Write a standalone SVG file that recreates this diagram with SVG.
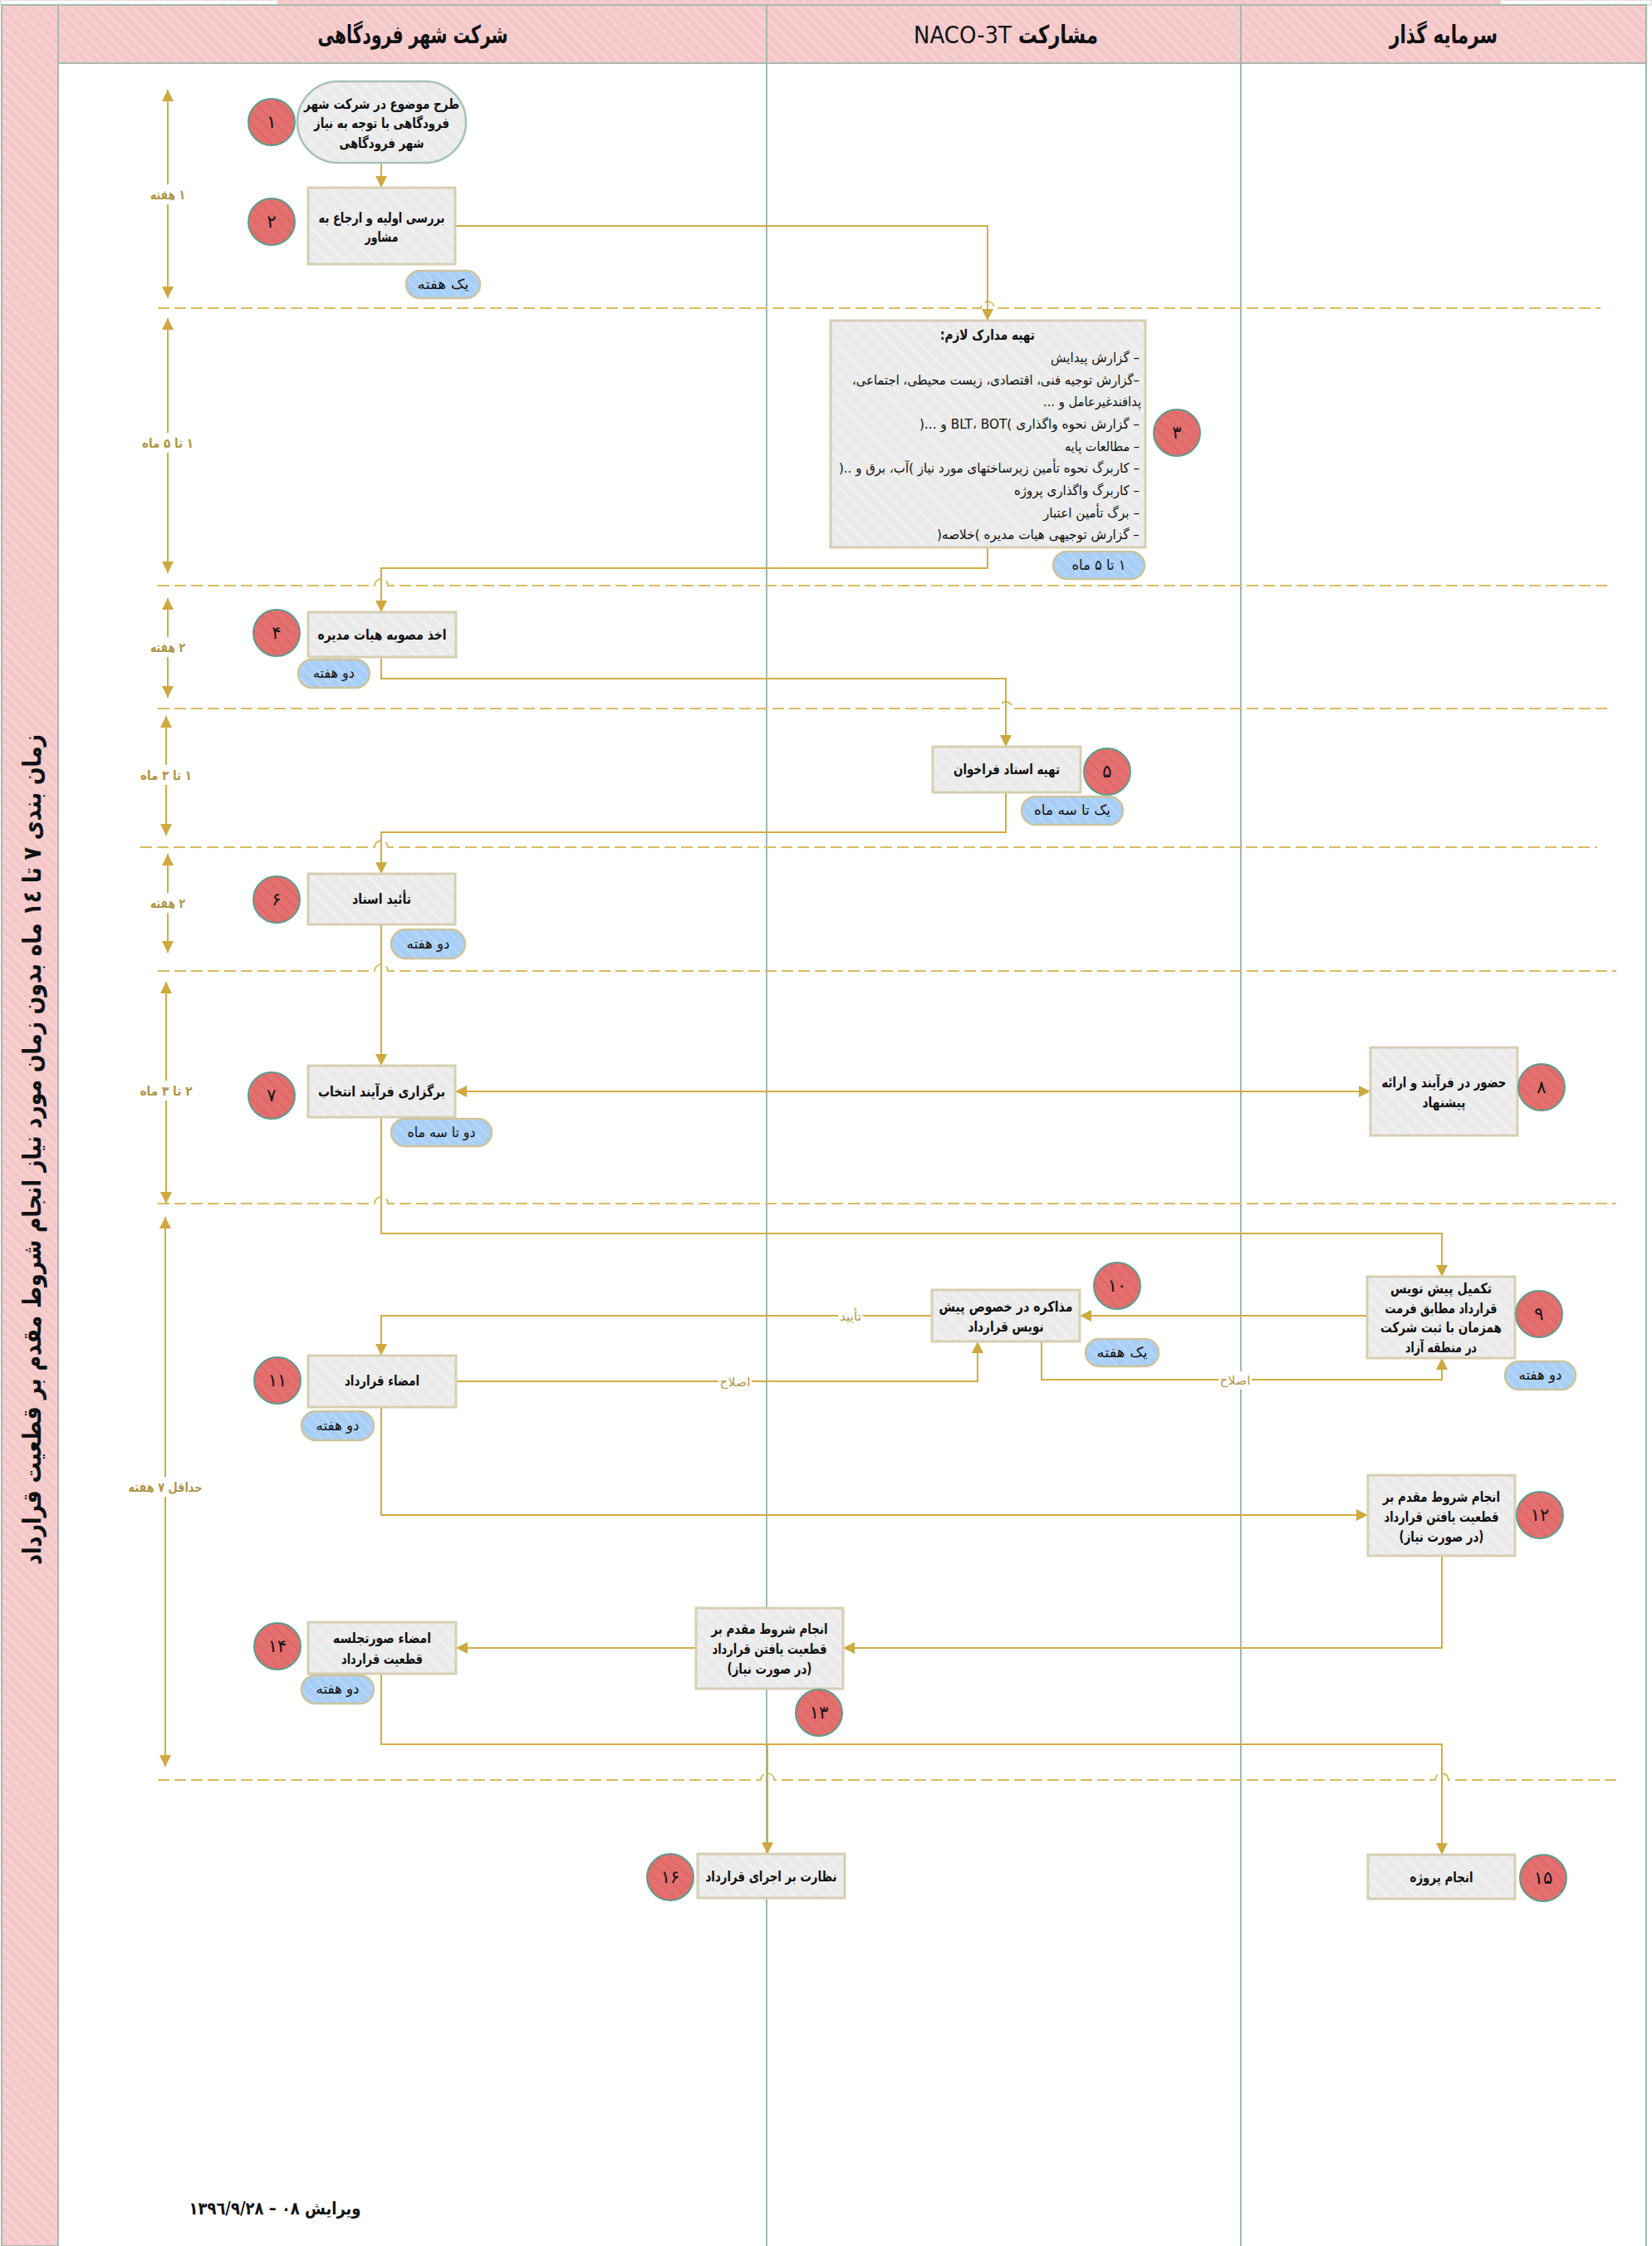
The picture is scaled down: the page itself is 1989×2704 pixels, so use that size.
<svg xmlns="http://www.w3.org/2000/svg" width="1989" height="2704" viewBox="0 0 1989 2704">
<defs>
<pattern id="pPink" width="9" height="9" patternUnits="userSpaceOnUse" patternTransform="rotate(45)"><rect width="9" height="9" fill="#f4c8c8"/><rect width="9" height="2" fill="#f7d4d4"/></pattern>
<pattern id="pGrey" width="12" height="12" patternUnits="userSpaceOnUse" patternTransform="rotate(45)"><rect width="12" height="12" fill="#ebebeb"/><rect width="12" height="2" fill="#f2f2f2"/></pattern>
<pattern id="pRed" width="10" height="10" patternUnits="userSpaceOnUse" patternTransform="rotate(45)"><rect width="10" height="10" fill="#e46f6f"/><rect width="10" height="2" fill="#de6666"/></pattern>
<pattern id="pBlue" width="10" height="10" patternUnits="userSpaceOnUse" patternTransform="rotate(45)"><rect width="10" height="10" fill="#a9cff6"/><rect width="10" height="2" fill="#b7d8f8"/></pattern>
<marker id="ah" viewBox="0 0 10 10" refX="10" refY="5" markerWidth="14" markerHeight="14" markerUnits="userSpaceOnUse" orient="auto-start-reverse"><path d="M0,0 L10,5 L0,10 z" fill="#cda93f"/></marker>
<style>
.box{fill:url(#pGrey);stroke:#d6cfb3;stroke-width:3}
.term{fill:url(#pGrey);stroke:#a7c1b7;stroke-width:2.5}
.cir{fill:url(#pRed);stroke:#5e9c8a;stroke-width:2}
.bad{fill:url(#pBlue);stroke:#cdc39e;stroke-width:2.5}
.t{font-family:'DejaVu Sans',sans-serif;font-size:17px;font-weight:bold;fill:#111;text-anchor:middle;direction:rtl}
.tl{font-family:'DejaVu Sans',sans-serif;font-size:16px;fill:#111;text-anchor:start;direction:rtl}
.bt{font-family:'DejaVu Sans',sans-serif;font-size:17px;fill:#111;text-anchor:middle;direction:rtl}
.num{font-family:'DejaVu Sans',sans-serif;font-size:21px;fill:#111;text-anchor:middle}
.hd{font-family:'DejaVu Sans',sans-serif;font-size:30px;font-weight:bold;fill:#111;text-anchor:middle;direction:rtl}
.du{font-family:'DejaVu Sans',sans-serif;font-size:16px;font-weight:bold;fill:#b09646;text-anchor:middle;direction:rtl}
.lb{font-family:'DejaVu Sans',sans-serif;font-size:15px;fill:#b09646;text-anchor:middle;direction:rtl}
.cn{fill:none;stroke:#d2ad42;stroke-width:2}
.sep{fill:none;stroke:#d8bd62;stroke-width:2;stroke-dasharray:14 6}
.lane{stroke:#9fb8b0;stroke-width:2}
.dur{stroke:#d2ad42;stroke-width:2}
</style>
</defs>
<rect width="1989" height="2704" fill="#ffffff"/>

<g id="frame">
<rect x="1" y="0" width="333" height="6" fill="#ffffff" stroke="#c8c8c8" stroke-width="1"/>
<rect x="334" y="0" width="1472" height="6" fill="url(#pPink)"/>
<rect x="1806" y="0" width="182" height="6" fill="#ffffff" stroke="#c8c8c8" stroke-width="1"/>
<rect x="2" y="6" width="68" height="2698" fill="url(#pPink)" stroke="#a9b8b2" stroke-width="2"/>
<rect x="70" y="6" width="1912" height="70" fill="url(#pPink)" stroke="#a9b8b2" stroke-width="2"/>
<line class="lane" x1="923" y1="6" x2="923" y2="2704"/>
<line class="lane" x1="1494" y1="6" x2="1494" y2="2704"/>
<line class="lane" x1="1982" y1="6" x2="1982" y2="2704"/>
<text class="hd" x="497" y="52" textLength="229" lengthAdjust="spacingAndGlyphs">شرکت شهر فرودگاهی</text>
<text class="hd" x="1274" y="52" textLength="96" lengthAdjust="spacingAndGlyphs">مشارکت</text>
<text x="1100" y="52" font-family="'DejaVu Sans',sans-serif" font-size="28" fill="#111" textLength="118" lengthAdjust="spacingAndGlyphs">NACO-3T</text>
<text class="hd" x="1738" y="52" textLength="130" lengthAdjust="spacingAndGlyphs">سرمایه گذار</text>
<text class="hd" transform="translate(49,1384) rotate(-90)" x="0" y="0" textLength="1000" lengthAdjust="spacingAndGlyphs">زمان بندی ۷ تا ۱٤ ماه بدون زمان مورد نیاز انجام شروط مقدم بر قطعیت قرارداد</text>
</g>

<g id="separators">
<path class="sep" d="M190 371 H1181 A8 8 0 0 1 1197 371 H1927"/>
<path class="sep" d="M190 705 H451 A8 8 0 0 1 467 705 H1940"/>
<path class="sep" d="M190 853 H1203 A8 8 0 0 1 1219 853 H1940"/>
<path class="sep" d="M169 1020 H451 A8 8 0 0 1 467 1020 H1923"/>
<path class="sep" d="M190 1169 H451 A8 8 0 0 1 467 1169 H1946"/>
<path class="sep" d="M190 1449 H451 A8 8 0 0 1 467 1449 H1946"/>
<path class="sep" d="M190 2143 H916 A8 8 0 0 1 932 2143 H1728 A8 8 0 0 1 1744 2143 H1946"/>
</g>

<g id="durations">
<line class="dur" x1="202" y1="108" x2="202" y2="359" marker-start="url(#ah)" marker-end="url(#ah)"/>
<rect x="176" y="222" width="52" height="24" fill="#fff"/>
<text class="du" x="202" y="240" textLength="42" lengthAdjust="spacingAndGlyphs">۱ هفته</text>
<line class="dur" x1="202" y1="383" x2="202" y2="690" marker-start="url(#ah)" marker-end="url(#ah)"/>
<rect x="166" y="521" width="72" height="24" fill="#fff"/>
<text class="du" x="202" y="539" textLength="62" lengthAdjust="spacingAndGlyphs">۱ تا ۵ ماه</text>
<line class="dur" x1="202" y1="720" x2="202" y2="840" marker-start="url(#ah)" marker-end="url(#ah)"/>
<rect x="176" y="767" width="52" height="24" fill="#fff"/>
<text class="du" x="202" y="785" textLength="42" lengthAdjust="spacingAndGlyphs">۲ هفته</text>
<line class="dur" x1="200" y1="862" x2="200" y2="1006" marker-start="url(#ah)" marker-end="url(#ah)"/>
<rect x="164" y="921" width="72" height="24" fill="#fff"/>
<text class="du" x="200" y="939" textLength="62" lengthAdjust="spacingAndGlyphs">۱ تا ۳ ماه</text>
<line class="dur" x1="202" y1="1028" x2="202" y2="1147" marker-start="url(#ah)" marker-end="url(#ah)"/>
<rect x="176" y="1075" width="52" height="24" fill="#fff"/>
<text class="du" x="202" y="1093" textLength="42" lengthAdjust="spacingAndGlyphs">۲ هفته</text>
<line class="dur" x1="200" y1="1182" x2="200" y2="1449" marker-start="url(#ah)" marker-end="url(#ah)"/>
<rect x="164" y="1301" width="72" height="24" fill="#fff"/>
<text class="du" x="200" y="1319" textLength="63" lengthAdjust="spacingAndGlyphs">۲ تا ۳ ماه</text>
<line class="dur" x1="199" y1="1465" x2="199" y2="2127" marker-start="url(#ah)" marker-end="url(#ah)"/>
<rect x="150" y="1778" width="98" height="24" fill="#fff"/>
<text class="du" x="199" y="1796" textLength="89" lengthAdjust="spacingAndGlyphs">حداقل ۷ هفته</text>
</g>

<g id="connectors">
<path class="cn" d="M459 196 V226" marker-end="url(#ah)"/>
<path class="cn" d="M548 272 H1189 V386" marker-end="url(#ah)"/>
<path class="cn" d="M1189 659 V684 H459 V737" marker-end="url(#ah)"/>
<path class="cn" d="M459 791 V817 H1211 V899" marker-end="url(#ah)"/>
<path class="cn" d="M1211 954 V1002 H459 V1052" marker-end="url(#ah)"/>
<path class="cn" d="M459 1113 V1283" marker-end="url(#ah)"/>
<path class="cn" d="M548 1314 H1650" marker-start="url(#ah)" marker-end="url(#ah)"/>
<path class="cn" d="M459 1345 V1485 H1736 V1537" marker-end="url(#ah)"/>
<path class="cn" d="M1646 1584 H1300" marker-end="url(#ah)"/>
<path class="cn" d="M1122 1584 H459 V1632" marker-end="url(#ah)"/>
<rect x="1009" y="1574" width="30" height="22" fill="#fff"/>
<text class="lb" x="1024" y="1590" textLength="26" lengthAdjust="spacingAndGlyphs">تأیید</text>
<path class="cn" d="M549 1663 H1177 V1615" marker-end="url(#ah)"/>
<rect x="865" y="1653" width="40" height="22" fill="#fff"/>
<text class="lb" x="885" y="1669" textLength="37" lengthAdjust="spacingAndGlyphs">اصلاح</text>
<path class="cn" d="M1254 1615 V1661 H1736 V1635" marker-end="url(#ah)"/>
<rect x="1467" y="1651" width="40" height="22" fill="#fff"/>
<text class="lb" x="1487" y="1667" textLength="37" lengthAdjust="spacingAndGlyphs">اصلاح</text>
<path class="cn" d="M459 1694 V1824 H1647" marker-end="url(#ah)"/>
<path class="cn" d="M1736 1873 V1984 H1015" marker-end="url(#ah)"/>
<path class="cn" d="M838 1984 H549" marker-end="url(#ah)"/>
<path class="cn" d="M459 2015 V2100 H1736 V2233" marker-end="url(#ah)"/>
<path class="cn" d="M924 2100 V2232" marker-end="url(#ah)"/>
</g>

<g id="node1">
<rect class="term" x="358" y="98" width="203" height="98" rx="49"/>
<text class="t" x="459.5" y="131" textLength="187" lengthAdjust="spacingAndGlyphs">طرح موضوع در شرکت شهر</text>
<text class="t" x="459.5" y="154" textLength="163" lengthAdjust="spacingAndGlyphs">فرودگاهی با توجه به نیاز</text>
<text class="t" x="459.5" y="178" textLength="102" lengthAdjust="spacingAndGlyphs">شهر فرودگاهی</text>
<circle class="cir" cx="327" cy="147" r="28"/><text class="num" x="327" y="154">۱</text>
</g>
<g id="node2">
<rect class="box" x="371" y="226" width="177" height="92"/>
<text class="t" x="459.5" y="268" textLength="152" lengthAdjust="spacingAndGlyphs">بررسی اولیه و ارجاع به</text>
<text class="t" x="459.5" y="291" textLength="40" lengthAdjust="spacingAndGlyphs">مشاور</text>
<circle class="cir" cx="327" cy="267" r="28"/><text class="num" x="327" y="274">۲</text>
<rect class="bad" x="489" y="326" width="89" height="33" rx="16.5"/><text class="bt" x="533.5" y="348" textLength="62" lengthAdjust="spacingAndGlyphs">یک هفته</text>
</g>
<g id="node3">
<rect class="box" x="1000" y="386" width="379" height="273"/>
<text class="t" x="1189" y="409" textLength="114" lengthAdjust="spacingAndGlyphs">تهیه مدارک لازم:</text>
<text class="tl" x="1372" y="436" textLength="107" lengthAdjust="spacingAndGlyphs">– گزارش پیدایش</text>
<text class="tl" x="1372" y="463" textLength="346" lengthAdjust="spacingAndGlyphs">–گزارش توجیه فنی، اقتصادی، زیست محیطی، اجتماعی،</text>
<text class="tl" x="1374" y="489" textLength="118" lengthAdjust="spacingAndGlyphs">پدافندغیرعامل و ...</text>
<text class="tl" x="1372" y="516" textLength="265" lengthAdjust="spacingAndGlyphs">– گزارش نحوه واگذاری )BLT، BOT و ...(</text>
<text class="tl" x="1372" y="543" textLength="90" lengthAdjust="spacingAndGlyphs">– مطالعات پایه</text>
<text class="tl" x="1372" y="569" textLength="362" lengthAdjust="spacingAndGlyphs">– کاربرگ نحوه تأمین زیرساختهای مورد نیاز )آب، برق و ..(</text>
<text class="tl" x="1372" y="596" textLength="151" lengthAdjust="spacingAndGlyphs">– کاربرگ واگذاری پروژه</text>
<text class="tl" x="1372" y="623" textLength="116" lengthAdjust="spacingAndGlyphs">– برگ تأمین اعتبار</text>
<text class="tl" x="1372" y="649" textLength="244" lengthAdjust="spacingAndGlyphs">– گزارش توجیهی هیات مدیره )خلاصه(</text>
<circle class="cir" cx="1417" cy="521" r="28"/><text class="num" x="1417" y="528">۳</text>
<rect class="bad" x="1268" y="664" width="110" height="33" rx="16.5"/><text class="bt" x="1323" y="686" textLength="65" lengthAdjust="spacingAndGlyphs">۱ تا ۵ ماه</text>
</g>
<g id="node4">
<rect class="box" x="371" y="737" width="178" height="54"/>
<text class="t" x="460" y="770" textLength="155" lengthAdjust="spacingAndGlyphs">اخذ مصوبه هیات مدیره</text>
<circle class="cir" cx="333" cy="762" r="28"/><text class="num" x="333" y="769">۴</text>
<rect class="bad" x="359" y="794" width="86" height="34" rx="17"/><text class="bt" x="402" y="816" textLength="50" lengthAdjust="spacingAndGlyphs">دو هفته</text>
</g>
<g id="node5">
<rect class="box" x="1123" y="899" width="178" height="55"/>
<text class="t" x="1212" y="932" textLength="128" lengthAdjust="spacingAndGlyphs">تهیه اسناد فراخوان</text>
<circle class="cir" cx="1333" cy="929" r="28"/><text class="num" x="1333" y="936">۵</text>
<rect class="bad" x="1230" y="959" width="122" height="34" rx="17"/><text class="bt" x="1291" y="981" textLength="92" lengthAdjust="spacingAndGlyphs">یک تا سه ماه</text>
</g>
<g id="node6">
<rect class="box" x="371" y="1052" width="177" height="61"/>
<text class="t" x="459.5" y="1088" textLength="71" lengthAdjust="spacingAndGlyphs">تأئید اسناد</text>
<circle class="cir" cx="333" cy="1083" r="28"/><text class="num" x="333" y="1090">۶</text>
<rect class="bad" x="471" y="1119" width="89" height="35" rx="17.5"/><text class="bt" x="515.5" y="1142" textLength="52" lengthAdjust="spacingAndGlyphs">دو هفته</text>
</g>
<g id="node7">
<rect class="box" x="371" y="1283" width="177" height="62"/>
<text class="t" x="459.5" y="1320" textLength="153" lengthAdjust="spacingAndGlyphs">برگزاری فرآیند انتخاب</text>
<circle class="cir" cx="327" cy="1319" r="28"/><text class="num" x="327" y="1326">۷</text>
<rect class="bad" x="471" y="1347" width="121" height="33" rx="16.5"/><text class="bt" x="531.5" y="1369" textLength="82" lengthAdjust="spacingAndGlyphs">دو تا سه ماه</text>
</g>
<g id="node8">
<rect class="box" x="1650" y="1261" width="177" height="106"/>
<text class="t" x="1738.5" y="1309" textLength="150" lengthAdjust="spacingAndGlyphs">حضور در فرآیند و ارائه</text>
<text class="t" x="1738.5" y="1333" textLength="52" lengthAdjust="spacingAndGlyphs">پیشنهاد</text>
<circle class="cir" cx="1856" cy="1309" r="28"/><text class="num" x="1856" y="1316">۸</text>
</g>
<g id="node9">
<rect class="box" x="1646" y="1537" width="178" height="98"/>
<text class="t" x="1735" y="1557" textLength="122" lengthAdjust="spacingAndGlyphs">تکمیل پیش نویس</text>
<text class="t" x="1735" y="1581" textLength="135" lengthAdjust="spacingAndGlyphs">قرارداد مطابق فرمت</text>
<text class="t" x="1735" y="1604" textLength="146" lengthAdjust="spacingAndGlyphs">همزمان با ثبت شرکت</text>
<text class="t" x="1735" y="1628" textLength="86" lengthAdjust="spacingAndGlyphs">در منطقه آزاد</text>
<circle class="cir" cx="1853" cy="1582" r="28"/><text class="num" x="1853" y="1589">۹</text>
<rect class="bad" x="1812" y="1639" width="85" height="34" rx="17"/><text class="bt" x="1854.5" y="1661" textLength="52" lengthAdjust="spacingAndGlyphs">دو هفته</text>
</g>
<g id="node10">
<rect class="box" x="1122" y="1553" width="178" height="62"/>
<text class="t" x="1211" y="1579" textLength="161" lengthAdjust="spacingAndGlyphs">مذاکره در خصوص پیش</text>
<text class="t" x="1211" y="1603" textLength="91" lengthAdjust="spacingAndGlyphs">نویس قرارداد</text>
<circle class="cir" cx="1345" cy="1548" r="28"/><text class="num" x="1345" y="1555">۱۰</text>
<rect class="bad" x="1307" y="1612" width="88" height="33" rx="16.5"/><text class="bt" x="1351" y="1634" textLength="61" lengthAdjust="spacingAndGlyphs">یک هفته</text>
</g>
<g id="node11">
<rect class="box" x="371" y="1632" width="178" height="62"/>
<text class="t" x="460" y="1668" textLength="90" lengthAdjust="spacingAndGlyphs">امضاء قرارداد</text>
<circle class="cir" cx="334" cy="1662" r="28"/><text class="num" x="334" y="1669">۱۱</text>
<rect class="bad" x="363" y="1699" width="87" height="35" rx="17.5"/><text class="bt" x="406.5" y="1722" textLength="52" lengthAdjust="spacingAndGlyphs">دو هفته</text>
</g>
<g id="node12">
<rect class="box" x="1647" y="1776" width="177" height="97"/>
<text class="t" x="1735.5" y="1808" textLength="141" lengthAdjust="spacingAndGlyphs">انجام شروط مقدم بر</text>
<text class="t" x="1735.5" y="1832" textLength="138" lengthAdjust="spacingAndGlyphs">قطعیت یافتن قرارداد</text>
<text class="t" x="1735.5" y="1856" textLength="102" lengthAdjust="spacingAndGlyphs">(در صورت نیاز)</text>
<circle class="cir" cx="1854" cy="1824" r="28"/><text class="num" x="1854" y="1831">۱۲</text>
</g>
<g id="node13">
<rect class="box" x="838" y="1936" width="177" height="97"/>
<text class="t" x="926.5" y="1967" textLength="140" lengthAdjust="spacingAndGlyphs">انجام شروط مقدم بر</text>
<text class="t" x="926.5" y="1991" textLength="138" lengthAdjust="spacingAndGlyphs">قطعیت یافتن قرارداد</text>
<text class="t" x="926.5" y="2015" textLength="102" lengthAdjust="spacingAndGlyphs">(در صورت نیاز)</text>
<circle class="cir" cx="986" cy="2062" r="28"/><text class="num" x="986" y="2069">۱۳</text>
</g>
<g id="node14">
<rect class="box" x="371" y="1953" width="178" height="62"/>
<text class="t" x="460" y="1978" textLength="118" lengthAdjust="spacingAndGlyphs">امضاء صورتجلسه</text>
<text class="t" x="460" y="2003" textLength="98" lengthAdjust="spacingAndGlyphs">قطعیت قرارداد</text>
<circle class="cir" cx="334" cy="1982" r="28"/><text class="num" x="334" y="1989">۱۴</text>
<rect class="bad" x="363" y="2017" width="87" height="34" rx="17"/><text class="bt" x="406.5" y="2039" textLength="52" lengthAdjust="spacingAndGlyphs">دو هفته</text>
</g>
<g id="node15">
<rect class="box" x="1647" y="2233" width="177" height="53"/>
<text class="t" x="1735.5" y="2266" textLength="76" lengthAdjust="spacingAndGlyphs">انجام پروژه</text>
<circle class="cir" cx="1858" cy="2261" r="28"/><text class="num" x="1858" y="2268">۱۵</text>
</g>
<g id="node16">
<rect class="box" x="840" y="2232" width="177" height="53"/>
<text class="t" x="928.5" y="2265" textLength="158" lengthAdjust="spacingAndGlyphs">نظارت بر اجرای قرارداد</text>
<circle class="cir" cx="807" cy="2260" r="28"/><text class="num" x="807" y="2267">۱۶</text>
</g>

<g id="footer">
<text class="t" x="331" y="2666" style="font-size:21px" textLength="207" lengthAdjust="spacingAndGlyphs">ویرایش ٠٨ – ١٣٩٦/٩/٢٨</text>
</g>
</svg>
